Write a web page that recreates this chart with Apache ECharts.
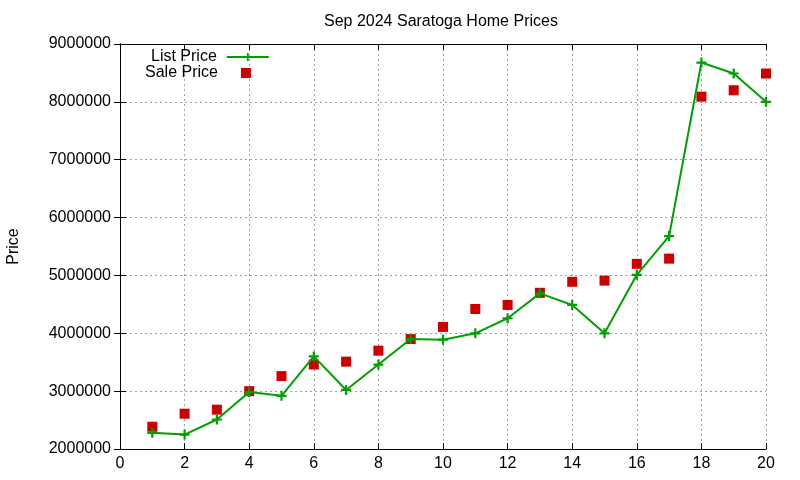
<!DOCTYPE html>
<html>
<head>
<meta charset="utf-8">
<script src="https://cdn.jsdelivr.net/npm/echarts@6/dist/echarts.min.js"></script>
<style>html,body{margin:0;padding:0;background:#fff}#c{width:800px;height:480px}</style>
</head>
<body>
<div id="c"></div>
<script>
const xValues = [1,2,3,4,5,6,7,8,9,10,11,12,13,14,15,16,17,18,19,20];
const listPrice = [2280000,2250000,2510000,2985000,2920000,3600000,3020000,3460000,3900000,3890000,4000000,4260000,4690000,4490000,4000000,5010000,5680000,8680000,8490000,8000000];
const salePrice = [2385000,2610000,2680000,3000000,3260000,3460000,3510000,3700000,3900000,4110000,4420000,4490000,4700000,4890000,4910000,5200000,5290000,8090000,8200000,8490000];
const titleText = 'Sep 2024 Saratoga Home Prices';
const yName = 'Price';

const font = 'Liberation Sans, Arial, sans-serif';
const plus = 'path://M3.5,0 H5.5 V3.5 H9 V5.5 H5.5 V9 H3.5 V5.5 H0 V3.5 H3.5 Z';
const gridLine = {show:true, lineStyle:{color:'#a0a0a0', type:[2,3], width:1}};
const legendText = {fontFamily:font, fontSize:16, color:'#000'};
const chart = echarts.init(document.getElementById('c'), null, {renderer:'canvas'});
chart.setOption({
  animation:false,
  backgroundColor:'#fff',
  title:{text:titleText, left:324, top:14, padding:0, textStyle:{fontFamily:font, fontSize:16, fontWeight:'normal', color:'#000'}},
  grid:{left:120, right:34, top:44, bottom:31, containLabel:false, outerBoundsMode:'none'},
  legend:[
    {orient:'vertical', align:'right', left:151, top:49, padding:0, itemWidth:42, itemHeight:10,
      textStyle:Object.assign({padding:[0,5,0,0]}, legendText), data:[{name:'List Price'}]},
    {orient:'vertical', align:'right', left:145, top:65, padding:0, itemWidth:10, itemHeight:10,
      textStyle:Object.assign({padding:[0,18,0,0]}, legendText), data:[{name:'Sale Price', icon:'rect'}]}
  ],
  xAxis:[{type:'value', min:0, max:20, interval:2,
    axisLine:{show:true, lineStyle:{color:'#000', width:1}},
    axisTick:{show:true, inside:true, length:6, lineStyle:{color:'#000'}},
    axisLabel:{fontFamily:font, fontSize:16, color:'#000', margin:7},
    splitLine:gridLine},
    {type:'value', position:'top', min:0, max:20, interval:2,
    axisLine:{show:true, lineStyle:{color:'#000', width:1}},
    axisTick:{show:true, inside:true, length:6, lineStyle:{color:'#000'}},
    axisLabel:{show:false}, splitLine:{show:false}}],
  yAxis:[{type:'value', min:2000000, max:9000000, interval:1000000,
    name:yName, nameLocation:'middle', nameGap:98, nameRotate:90,
    nameTextStyle:{fontFamily:font, fontSize:16, color:'#000'},
    axisLine:{show:true, lineStyle:{color:'#000', width:1}},
    axisTick:{show:true, inside:true, length:6, lineStyle:{color:'#000'}},
    axisLabel:{fontFamily:font, fontSize:16, color:'#000', margin:9, formatter:v=>String(v)},
    splitLine:gridLine},
    {type:'value', position:'right', min:2000000, max:9000000, interval:1000000,
    axisLine:{show:true, lineStyle:{color:'#000', width:1}},
    axisTick:{show:true, inside:true, length:6, lineStyle:{color:'#000'}},
    axisLabel:{show:false}, splitLine:{show:false}}],
  series:[
    {name:'List Price', type:'line', data:xValues.map((x,i)=>[x,listPrice[i]]),
      symbol:plus, symbolSize:10, showAllSymbol:true,
      lineStyle:{color:'#00a000', width:2}, itemStyle:{color:'#00a000'}, z:3},
    {name:'Sale Price', type:'scatter', data:xValues.map((x,i)=>[x,salePrice[i]]),
      symbol:'rect', symbolSize:10, itemStyle:{color:'#cc0000', opacity:1}, z:2}
  ]
});
</script>
</body>
</html>
